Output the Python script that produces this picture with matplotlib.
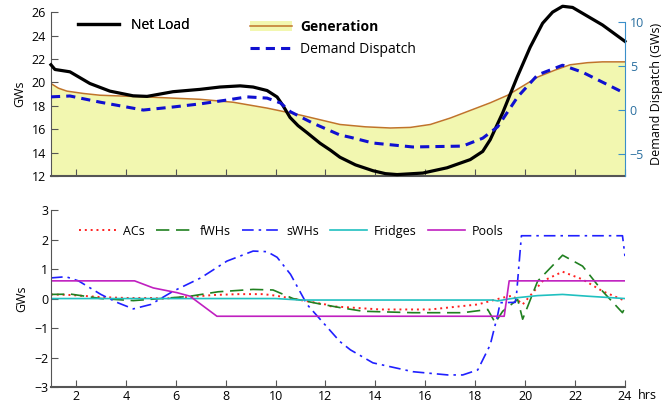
import matplotlib.pyplot as plt
from matplotlib.patches import Patch
from matplotlib.lines import Line2D

plt.rcParams['font.family'] = ['Open Sans', 'DejaVu Sans']

# %% data
# top panel (left axis, GW)
net_hours = [1, 1.16, 1.76, 2.56, 3.36, 4.29, 4.85, 5.89, 6.97, 7.77, 8.58, 9.1, 9.66, 10.06,
             10.3, 10.58, 10.9, 11.26, 11.78, 12.2, 12.58, 13.2, 13.9, 14.4, 14.87, 15.9, 16.87,
             17.8, 18.3, 18.6, 19.1, 19.68, 20.2, 20.7, 21.1, 21.5, 21.9, 22.3, 23.1, 24]
net_load = [21.5, 21.1, 20.9, 19.9, 19.25, 18.85, 18.8, 19.2, 19.4, 19.6, 19.7, 19.6, 19.3, 18.75,
            18.0, 17.0, 16.3, 15.7, 14.8, 14.2, 13.6, 12.95, 12.45, 12.2, 12.12, 12.25, 12.7,
            13.4, 14.1, 15.1, 17.4, 20.45, 23.0, 25.05, 26.0, 26.5, 26.4, 25.9, 24.9, 23.5]

gen_hours = [1, 1.3, 1.64, 2.3, 2.96, 4.85, 6.97, 8.3, 9.66, 11, 12.58, 13.6, 14.6, 15.4, 16.2,
             17.0, 17.8, 18.6, 19.3, 20.5, 21.2, 21.8, 22.5, 23.1, 24]
generation = [19.9, 19.5, 19.25, 19.05, 18.9, 18.75, 18.55, 18.3, 17.8, 17.2, 16.4, 16.2, 16.1,
              16.15, 16.4, 16.95, 17.6, 18.25, 18.9, 20.45, 21.05, 21.5, 21.68, 21.75, 21.75]

# demand dispatch on right axis
dd_hours = [1, 1.76, 2.96, 4.7, 5.9, 6.97, 8.05, 8.86, 9.66, 10.2, 10.6, 11.5, 12.58, 13,
            13.9, 15.5, 17.5, 18.3, 18.9, 19.7, 20.5, 21.5, 22.3, 24]
demand_dispatch = [1.5, 1.6, 0.9, 0.0, 0.35, 0.7, 1.14, 1.5, 1.36, 0.8, -0.2, -1.5, -2.84, -3.1,
                   -3.75, -4.2, -4.1, -3.2, -1.9, 1.5, 4.0, 5.1, 4.3, 1.9]

# bottom panel (GW)
ac_hours = [1, 1.8, 3, 4, 5, 5.5, 6.5, 7.5, 8.5, 9.5, 10, 11, 12, 12.2, 14.2, 16.2, 18.1, 19.1,
            19.5, 19.9, 20.7, 21.5, 22.3, 23.1, 23.9, 24]
acs = [0.14, 0.12, 0.05, 0.02, 0.02, 0.0, 0.05, 0.12, 0.15, 0.15, 0.1, -0.05, -0.2, -0.26,
       -0.37, -0.37, -0.2, 0.03, 0.1, -0.2, 0.59, 0.91, 0.65, 0.25, -0.04, 0.0]

fwh_hours = [1, 1.8, 3, 4.3, 5.4, 6.5, 7.7, 9.1, 9.9, 10.7, 11.7, 12.6, 13.5, 15.5, 17.5, 18.5,
             18.8, 19.1, 19.7, 19.9, 20.5, 21.5, 22.3, 23.1, 23.9, 24]
fwhs = [0.14, 0.15, 0.0, -0.07, 0.0, 0.07, 0.23, 0.31, 0.29, 0.0, -0.17, -0.31, -0.43, -0.48,
        -0.48, -0.37, -0.82, -0.43, -0.03, -0.7, 0.59, 1.47, 1.1, 0.25, -0.48, -0.3]

swh_hours = [1, 1.6, 2.1, 3, 3.7, 4.3, 5, 5.9, 7, 8.05, 9.1, 9.66, 10.06, 10.6, 11.26, 12.58,
             13, 13.9, 15.5, 16.9, 17.5, 18.1, 18.6, 18.9, 19.0, 19.6, 19.65, 19.85, 23.9, 24]
swhs = [0.7, 0.74, 0.6, 0.14, -0.15, -0.35, -0.2, 0.25, 0.7, 1.27, 1.61, 1.59, 1.4, 0.82, -0.2,
        -1.46, -1.74, -2.18, -2.48, -2.59, -2.59, -2.42, -1.57, -0.55, -0.14, -0.13, 0.1, 2.13,
        2.13, 1.44]

fridge_hours = [1, 10, 11, 18.7, 18.9, 19.3, 19.7, 20.5, 21.5, 22.5, 24]
fridges = [0.0, 0.0, -0.05, -0.05, -0.08, -0.02, 0.03, 0.1, 0.14, 0.08, 0.0]

pool_hours = [1, 4.35, 5.1, 6.05, 6.57, 7.65, 19.16, 19.36, 24]
pools = [0.6, 0.6, 0.36, 0.2, 0.08, -0.6, -0.6, 0.6, 0.6]

xticks = list(range(2, 25, 2))

# %% figure
fig = plt.figure(figsize=(6.68, 4.04), dpi=100)
ax1 = fig.add_axes([0.0763, 0.5644, 0.8593, 0.4056])
ax2 = fig.add_axes([0.0763, 0.042, 0.8593, 0.438])

spine_col = '#555555'
right_col = '#3a8fc9'

# top panel
ax1.fill_between(gen_hours, 12, generation, color='#f2f7b0', lw=0)
ax1.plot(gen_hours, generation, color='#c0742a', lw=1.1)
ax1.plot(net_hours, net_load, color='black', lw=2.3, clip_on=False, zorder=5)
ax1.set_xlim(1, 24)
ax1.set_ylim(12, 26)
ax1.set_yticks(range(12, 27, 2))
ax1.set_xticks(xticks)
ax1.set_xticklabels([])
ax1.set_ylabel('GWs', fontsize=9)
ax1.tick_params(direction='in', labelsize=9, color=spine_col, length=5)
for s in ['top', 'right']:
    ax1.spines[s].set_visible(False)
ax1.spines['left'].set_color(spine_col)
ax1.spines['bottom'].set_color(spine_col)
ax1.spines['bottom'].set_linewidth(1.5)

ax1r = ax1.twinx()
ax1r.plot(dd_hours, demand_dispatch, color='#1010d0', lw=2.2, ls=(0, (3, 2)))
ax1r.set_ylim(-7.5, 11.14)
ax1r.set_yticks([-5, 0, 5, 10])
ax1r.set_ylabel('Demand Dispatch (GWs)', fontsize=9)
ax1r.tick_params(direction='in', labelsize=9, color=right_col, labelcolor='#2a6fa0', length=5)
for s in ['top', 'left', 'bottom']:
    ax1r.spines[s].set_visible(False)
ax1r.spines['right'].set_color(right_col)
ax1r.spines['right'].set_bounds(-7.5, 10)

leg1 = ax1.legend([Line2D([], [], color='black', lw=2.3)], ['Net Load'],
                  loc='upper left', bbox_to_anchor=(0.025, 1.04), frameon=False,
                  fontsize=10, handlelength=3)
ax1.add_artist(leg1)
gen_handle = (Patch(facecolor='#f2f7b0', edgecolor='none'),
              Line2D([], [], color='#c0742a', lw=1.1))
leg2 = ax1r.legend([gen_handle, Line2D([], [], color='#1010d0', lw=2.2, ls=(0, (3, 2)))],
                   ['Generation', 'Demand Dispatch'], loc='upper left',
                   bbox_to_anchor=(0.325, 1.03), frameon=False, fontsize=10,
                   handlelength=3, handletextpad=0.6, labelspacing=0.6)
leg2.get_texts()[0].set_fontweight('bold')

# bottom panel
ax2.plot(ac_hours, acs, color='#ff2020', lw=1.4, ls=(0, (1, 2)), label='ACs')
ax2.plot(fwh_hours, fwhs, color='#208020', lw=1.2, ls=(0, (8, 4)), label='fWHs')
ax2.plot(swh_hours, swhs, color='#2020ff', lw=1.2, ls=(0, (7, 3, 1.5, 3)), label='sWHs')
ax2.plot(fridge_hours, fridges, color='#20c0c0', lw=1.2, label='Fridges')
ax2.plot(pool_hours, pools, color='#c020c0', lw=1.2, label='Pools')
ax2.set_xlim(1, 24)
ax2.set_ylim(-3, 3)
ax2.set_xticks(xticks)
ax2.set_yticks(range(-3, 4))
ax2.set_ylabel('GWs', fontsize=9)
ax2.tick_params(direction='in', labelsize=9, color=spine_col, length=5, pad=2)
for s in ['top', 'right']:
    ax2.spines[s].set_visible(False)
ax2.spines['left'].set_color(spine_col)
ax2.spines['bottom'].set_color(spine_col)
ax2.spines['bottom'].set_linewidth(1.5)
ax2.legend(loc='upper left', bbox_to_anchor=(0.03, 0.98), ncol=5, frameon=False,
           fontsize=9, handlelength=3, handletextpad=0.5, columnspacing=0.9)
ax2.text(1.022, -0.012, 'hrs', transform=ax2.transAxes, fontsize=9, va='top')

fig.savefig('out.png', dpi=100)
